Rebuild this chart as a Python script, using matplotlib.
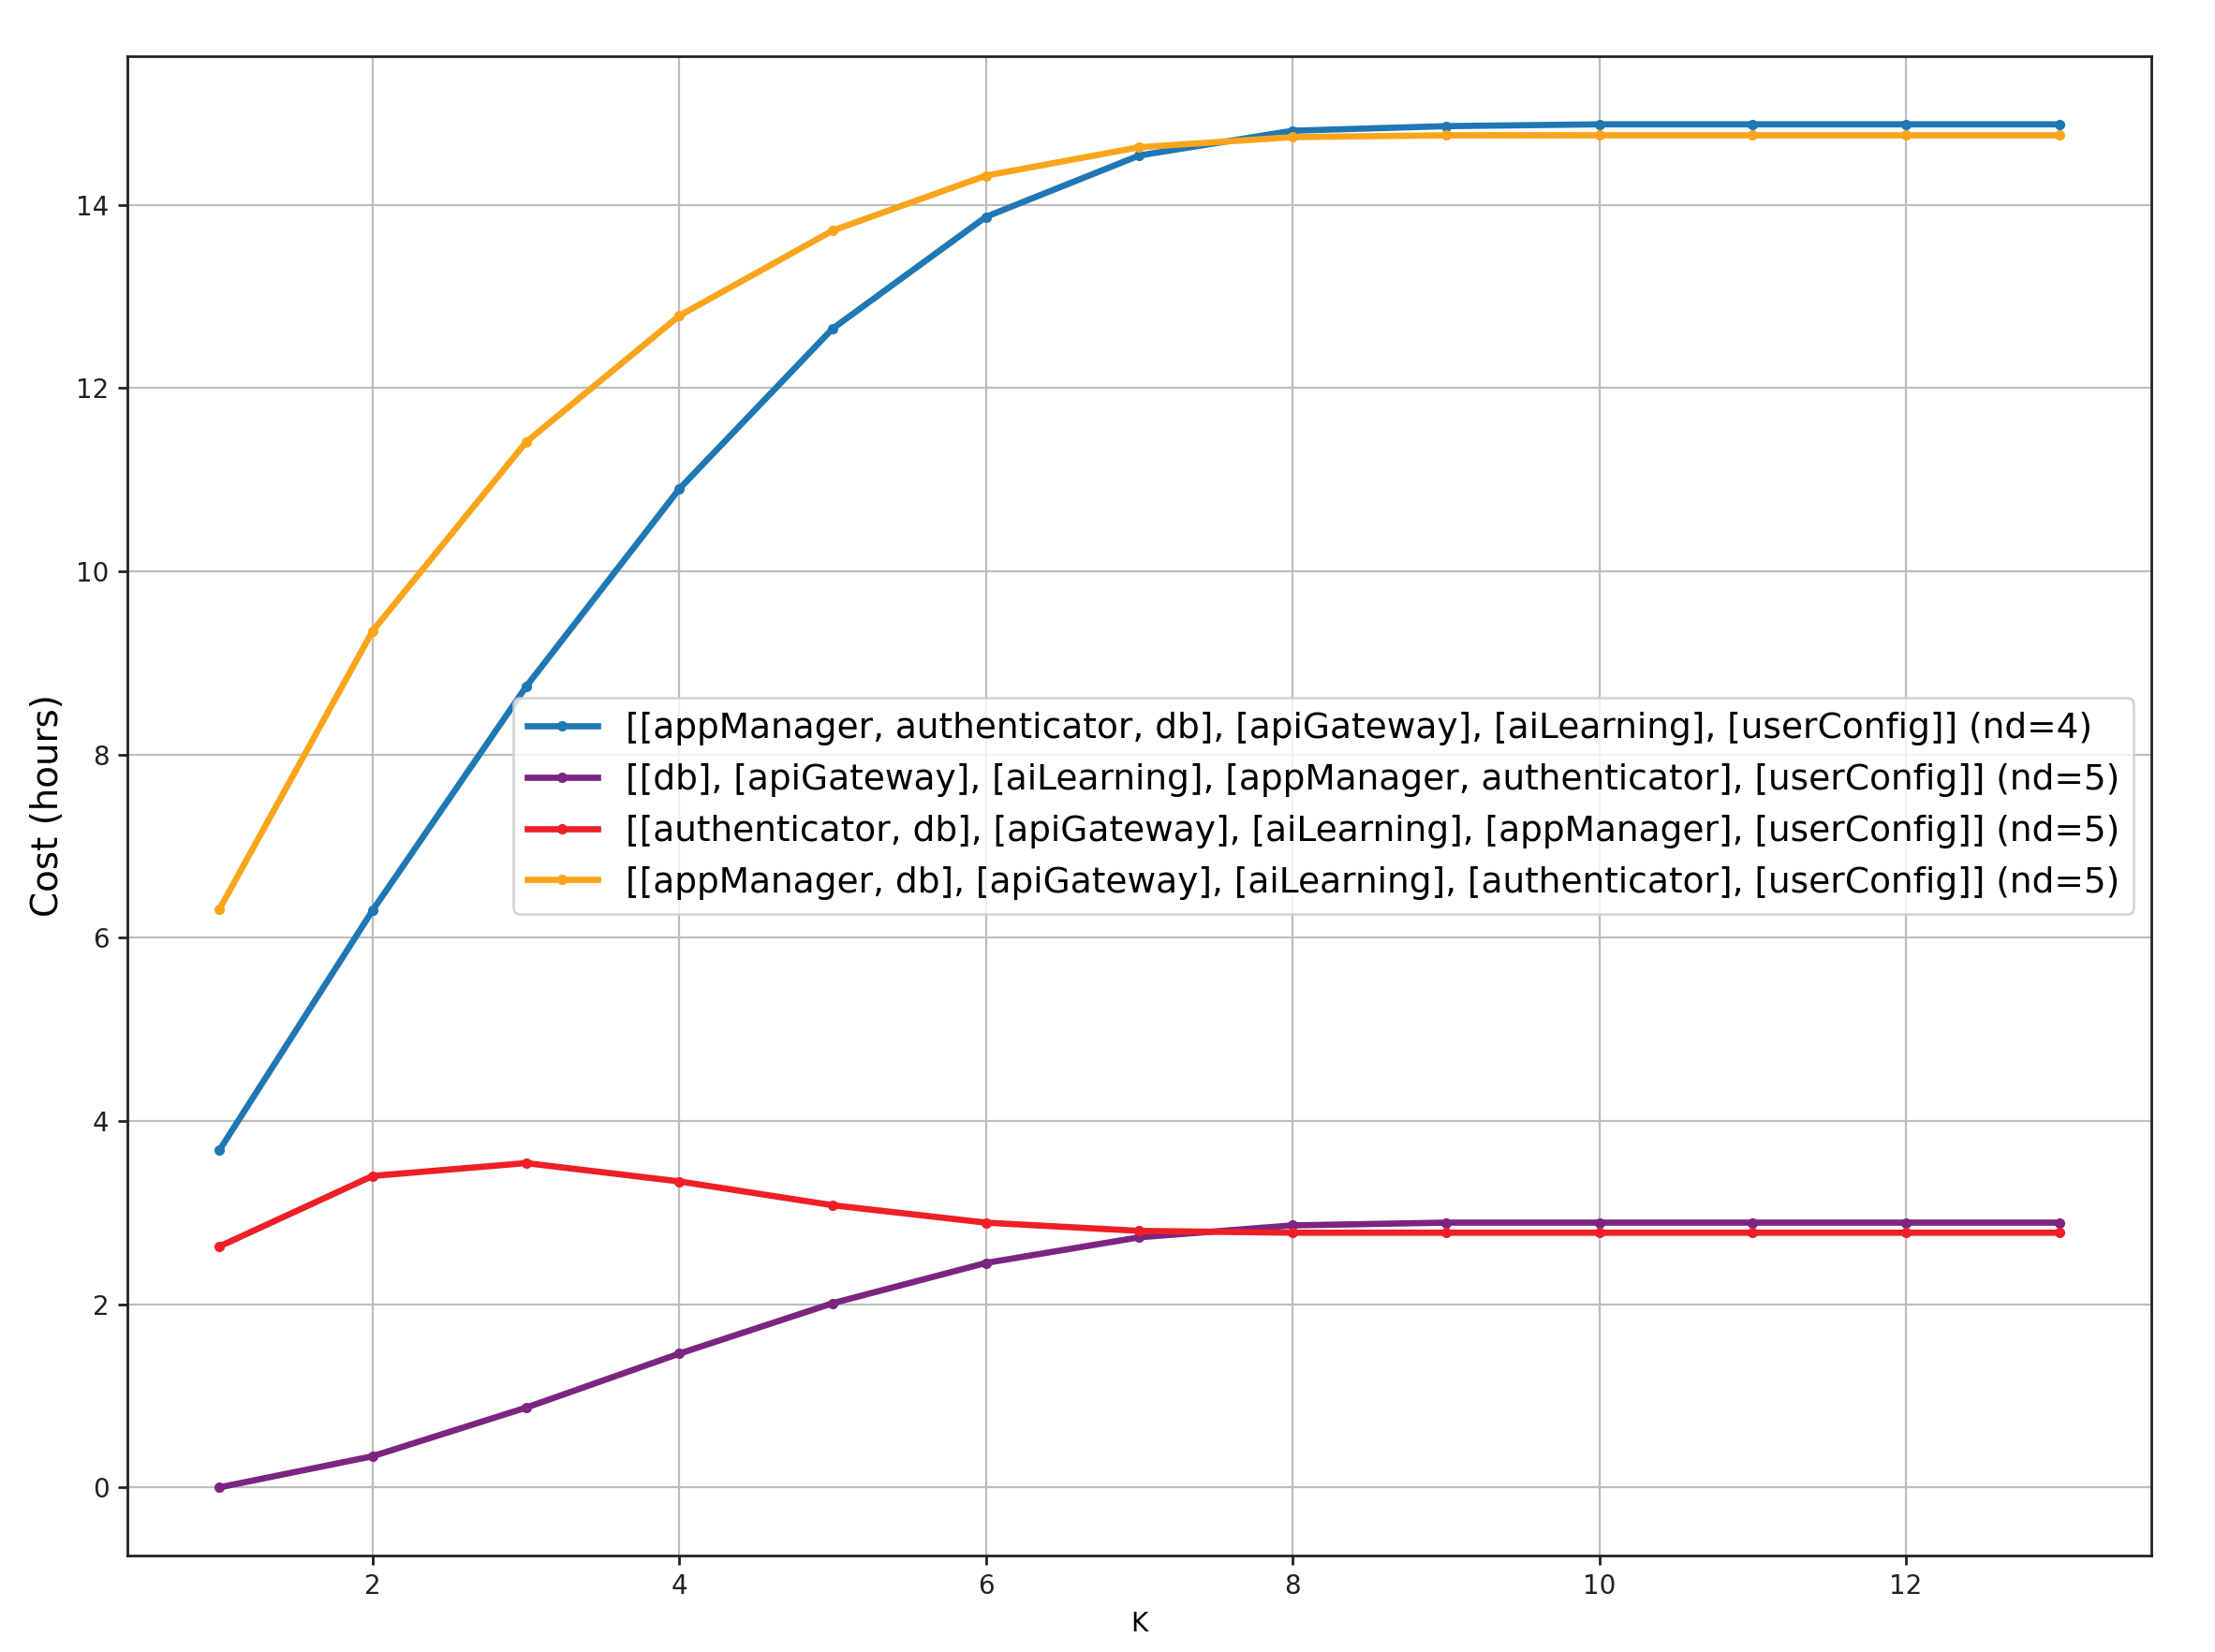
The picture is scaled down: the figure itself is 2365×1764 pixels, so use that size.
import matplotlib
matplotlib.use("Agg")
import matplotlib.pyplot as plt

# ==========================================
# Data
# ==========================================
k = [1, 2, 3, 4, 5, 6, 7, 8, 9, 10, 11, 12, 13]

cost_nd4 = [3.68, 6.30, 8.74, 10.90, 12.65, 13.87, 14.54, 14.81, 14.86, 14.88, 14.88, 14.88, 14.88]
cost_db_first = [0.0, 0.34, 0.87, 1.46, 2.01, 2.45, 2.73, 2.86, 2.89, 2.89, 2.89, 2.89, 2.89]
cost_auth_db = [2.63, 3.40, 3.54, 3.34, 3.08, 2.89, 2.80, 2.78, 2.78, 2.78, 2.78, 2.78, 2.78]
cost_app_db = [6.31, 9.35, 11.41, 12.79, 13.72, 14.32, 14.63, 14.74, 14.76, 14.76, 14.76, 14.76, 14.76]

labels = [
    "[[appManager, authenticator, db], [apiGateway], [aiLearning], [userConfig]] (nd=4)",
    "[[db], [apiGateway], [aiLearning], [appManager, authenticator], [userConfig]] (nd=5)",
    "[[authenticator, db], [apiGateway], [aiLearning], [appManager], [userConfig]] (nd=5)",
    "[[appManager, db], [apiGateway], [aiLearning], [authenticator], [userConfig]] (nd=5)",
]
colors = ["#1f77b4", "#7b2580", "#ee1f26", "#f9a51b"]
series = [cost_nd4, cost_db_first, cost_auth_db, cost_app_db]

# ==========================================
# Plot
# ==========================================
fig = plt.figure(figsize=(2365 / 200, 1764 / 200), dpi=200)
ax = fig.add_axes([0.0575, 0.0584, 0.9137, 0.9076])

for ys, c, lab in zip(series, colors, labels):
    ax.plot(k, ys, color=c, linewidth=2.4, marker='o', markersize=3.0, label=lab)

ax.grid(True, color="#bdbdbd", linewidth=0.8)
ax.set_axisbelow(True)
for s in ax.spines.values():
    s.set_linewidth(1.0)
    s.set_color("#222222")

ax.tick_params(labelsize=10, width=1.0, length=3.5, colors="#222222")
ax.set_xlabel("K", fontsize=10, labelpad=4)
ax.set_ylabel("Cost (hours)", fontsize=14)

ax.legend(loc="center right", fontsize=13.5, handlelength=2.0, labelspacing=0.5)

fig.savefig("out.png", dpi=200)
